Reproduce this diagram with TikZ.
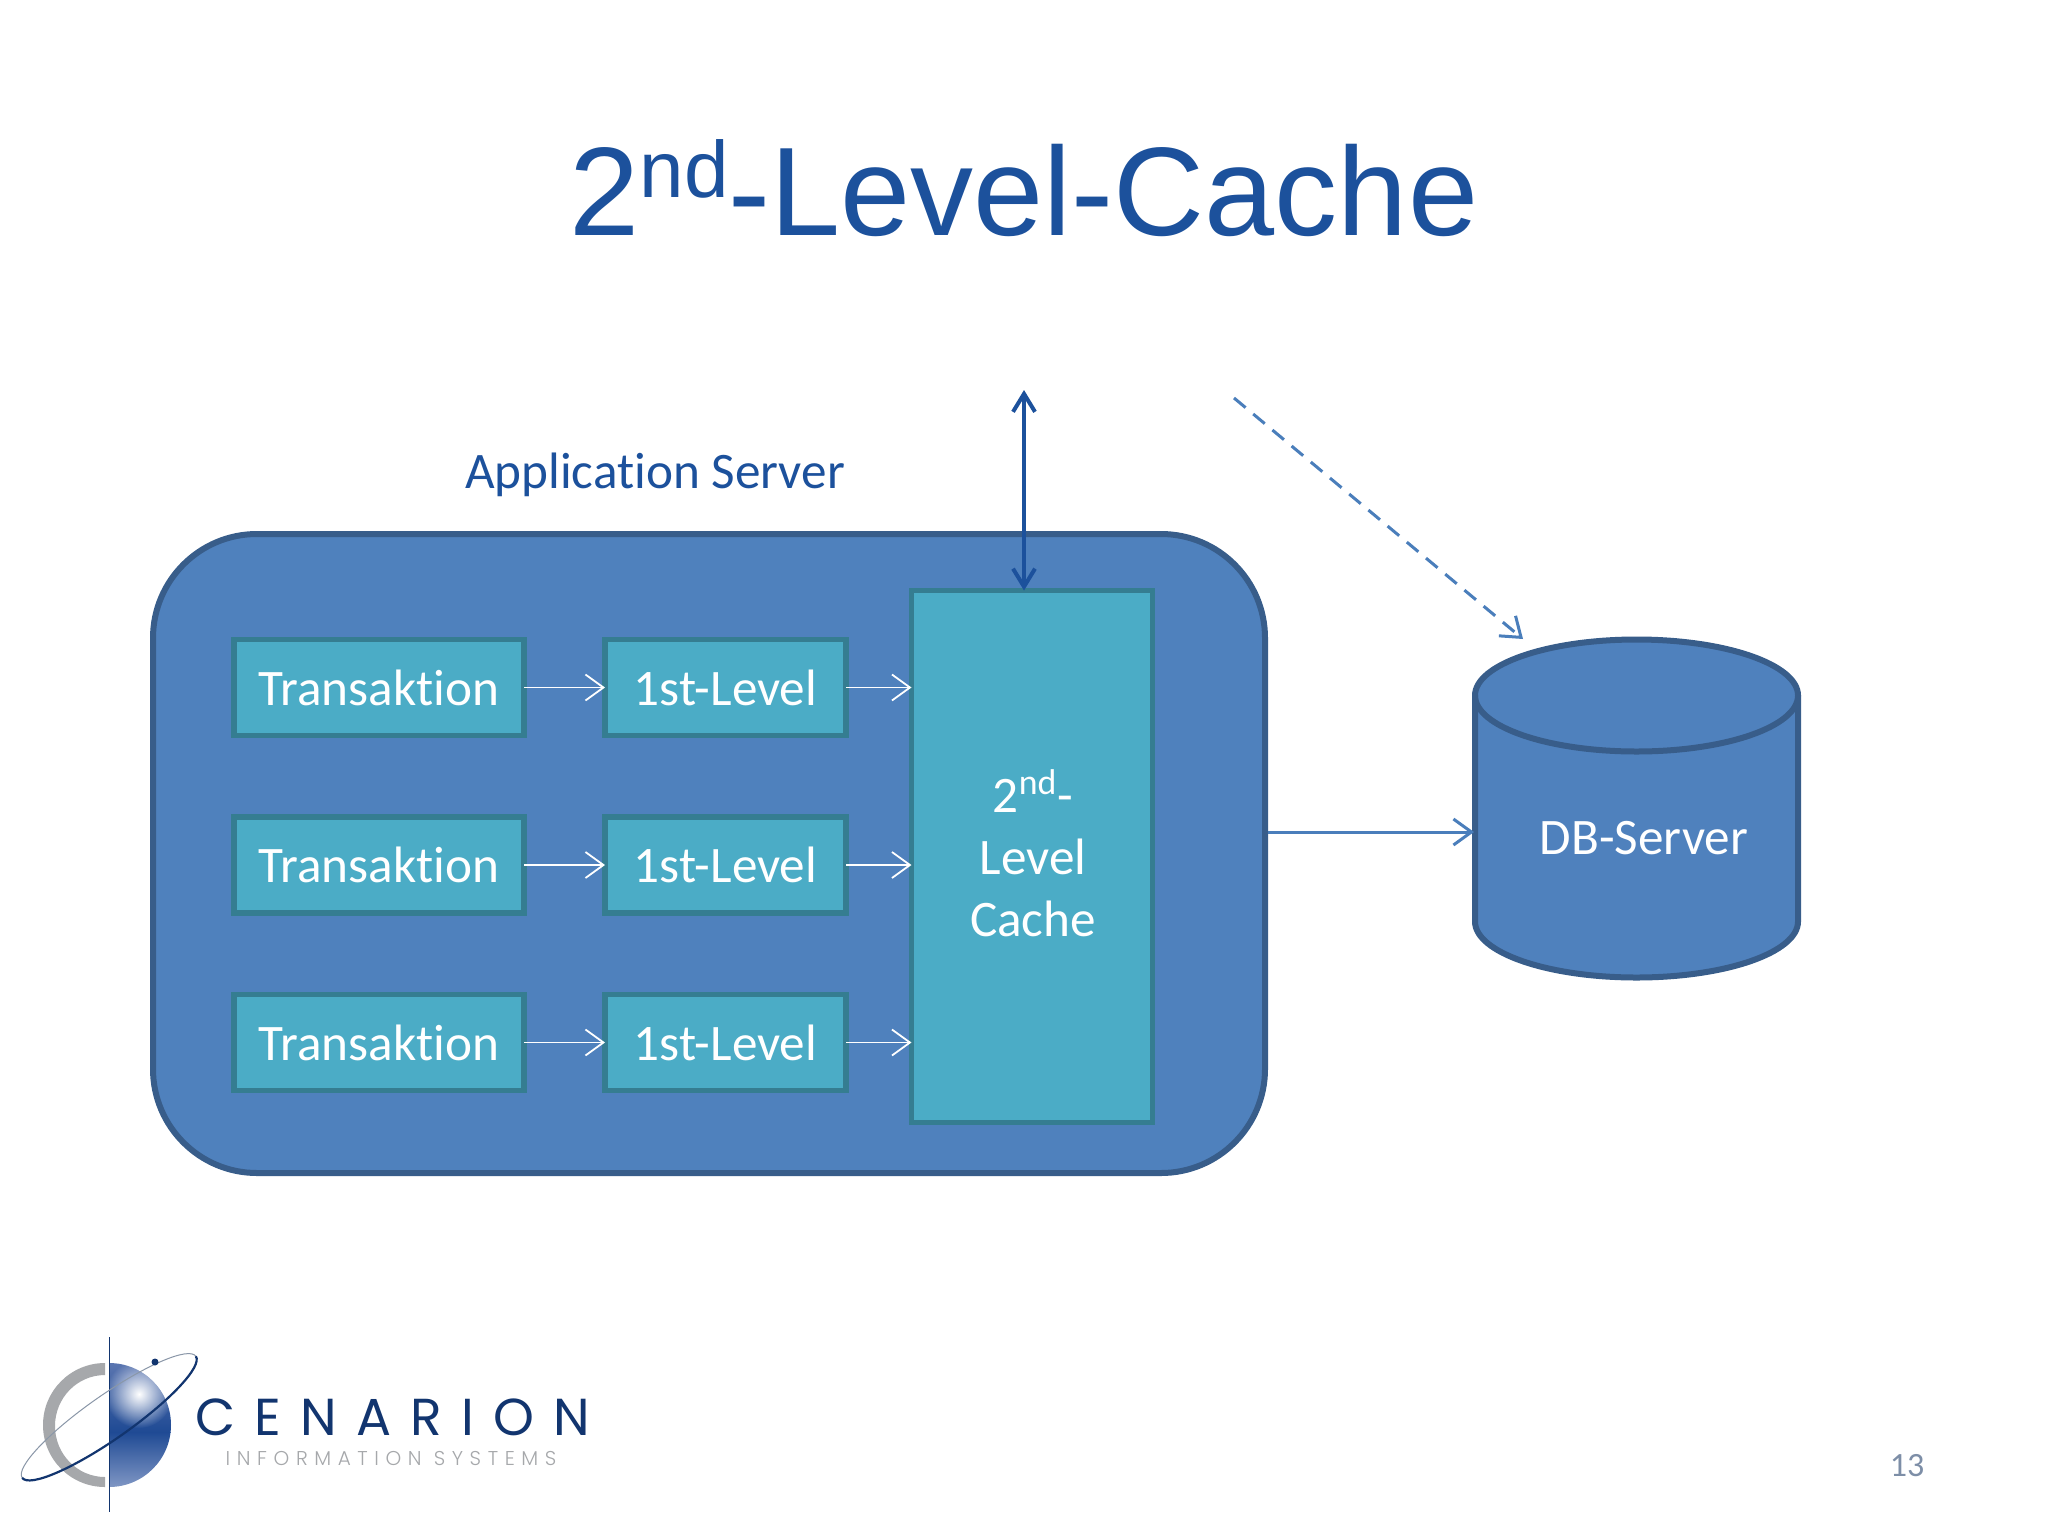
\documentclass[tikz,border=0pt]{standalone}
\usepackage{fontspec}
\setmainfont[Ligatures=NoCommon]{Carlito}
\newfontfamily\titlefont{Liberation Sans}
\newfontfamily\logofont[LetterSpace=37]{Poppins}
\newfontfamily\logosubfont[LetterSpace=33]{Poppins Light}
\usetikzlibrary{arrows.meta,positioning,fadings}
\definecolor{titleblue}{HTML}{1C519C}
\definecolor{srvfill}{HTML}{4F81BD}
\definecolor{srvline}{HTML}{385D8A}
\definecolor{boxfill}{HTML}{4BACC6}
\definecolor{boxline}{HTML}{357D91}
\definecolor{linkblue}{HTML}{4A7EBB}
\definecolor{logonavy}{HTML}{12356F}
\definecolor{logogrey}{HTML}{A6A8AB}
\definecolor{spheretop}{HTML}{5A75B0}
\definecolor{spheremid}{HTML}{1F4A94}
\definecolor{spherelow}{HTML}{7F96C4}
\tikzfading[name=spherefade,inner color=transparent!0,outer color=transparent!100]
\tikzset{
	srvshape/.style={draw=srvline,fill=srvfill,line width=3pt,outer sep=0pt},
	cachebox/.style={draw=boxline,fill=boxfill,line width=2.6pt,outer sep=0pt,text=white,font=\fontsize{25.6}{31}\selectfont,align=center},
	whitearrow/.style={white,line width=.9pt,-{Straight Barb[length=9pt,width=13pt,line width=.9pt]}},
	linkarrow/.style={linkblue,line width=1.5pt,-{Straight Barb[length=9pt,width=13pt,line width=1.5pt]}},
}
\begin{document}
\begin{tikzpicture}[x=0.5pt,y=-0.5pt]
	\def\rowa{687.5}
	\def\rowd{177.5} % distance between rows
	\useasboundingbox (0,0) rectangle (2048,1536);
	\fill[white] (0,0) rectangle (2048,1536);

	\node[text=titleblue,font=\titlefont\fontsize{63}{70}\selectfont] (title) at (1024,188) {2\raisebox{19pt}{\fontsize{40}{44}\selectfont nd}-Level-Cache};
	\node[text=titleblue,font=\fontsize{25.6}{28}\selectfont] (applabel) at (655,475) {Application Server};

	\node[srvshape,rounded corners=52pt,minimum width=556pt,minimum height=319.5pt] (srv) at (709,853.5) {};
	\node[cachebox,inner sep=0pt,minimum width=120.5pt,minimum height=266pt] (cache) at (1032,856.5) {};
	\node[text=white,font=\fontsize{25.6}{31}\selectfont,align=center] (cachelabel) at (1033,853) {2\textsuperscript{nd}-\\Level\\Cache};

	\foreach \r in {0,1,2} {
		\pgfmathsetmacro{\ry}{\rowa+\r*\rowd}
		\node[cachebox,minimum width=145pt,minimum height=48pt] (trans\r) at (379,\ry) {Transaktion};
		\node[cachebox,minimum width=120.5pt,minimum height=48pt] (first\r) at (725.5,\ry) {1st-Level};
		\draw[whitearrow] (trans\r) -- (first\r);
		\draw[whitearrow] (first\r) -- (first\r -| cache.west);
	}

	% cylinder
	\draw[srvshape] (1475,695.5) -- (1475,921.5) arc (180:0:161.5 and 56) -- (1798,695.5) arc (0:-180:161.5 and 56) -- cycle;
	\draw[srvshape,fill=none] (1475,695.5) arc (180:0:161.5 and 56);
	\node[text=white,font=\fontsize{25.6}{28}\selectfont] (dblabel) at (1644,838) {DB-Server};

	\coordinate (srvout) at (1268,832);
	\coordinate (dbin) at (1474,832);
	\coordinate (upend) at (1024,390);
	\coordinate (dashstart) at (1234,398);
	\coordinate (dashend) at (1523,639);
	\draw[linkarrow] (srvout) -- (dbin);
	\draw[linkarrow,dash pattern=on 7.5pt off 5pt] (dashstart) -- (dashend);
	\draw[titleblue,line width=2pt,{Straight Barb[length=9pt,width=11pt,line width=2pt]}-{Straight Barb[length=9pt,width=11pt,line width=2pt]}] (upend) -- (upend |- cache.north);

	% logo
	\fill[logogrey] (105,1363) arc (270:90:62) -- (105,1477) arc (90:270:50 and 51) -- cycle;
	\begin{scope}
		\clip (109,1363) arc (-90:90:62) -- cycle;
		\shade[top color=spheretop,bottom color=spheremid] (109,1363) rectangle (171,1432);
		\shade[top color=spheremid,bottom color=spherelow] (109,1432) rectangle (171,1487);
		\fill[white,path fading=spherefade] (139,1394) circle (34);
	\end{scope}
	\draw[logonavy,line width=.5pt] (109,1337) -- (109,1512);
	\draw[logogrey!80!titleblue,line width=.5pt,rotate around={35:(109,1417)}] (3,1417) arc (180:360:106 and 22);
	\draw[logonavy,line width=1.1pt,rotate around={35:(109,1417)}] (3,1417) arc (180:0:106 and 22);
	\fill[logonavy] (155,1362) circle (3.5);
	\node[text=logonavy,font=\logofont\fontsize{26}{30}\selectfont,inner sep=0pt] (cenarion) at (393,1417) {CENARION};
	\node[text=logogrey,font=\logosubfont\fontsize{10}{12}\selectfont,inner sep=0pt] (infosys) at (391,1458) {INFORMATION SYSTEMS};

	\node[text=logogrey!70!titleblue,font=\fontsize{17}{20}\selectfont] (pagenum) at (1907,1466) {13};
\end{tikzpicture}
\end{document}
